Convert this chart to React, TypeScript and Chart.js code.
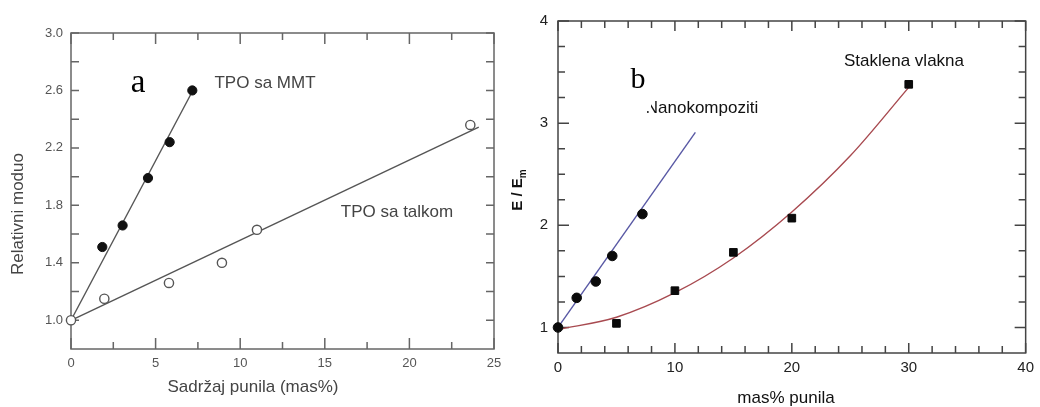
import React, { useEffect, useRef } from "react";
import { Chart, registerables } from "chart.js";

Chart.register(...registerables);

// ---------- Panel a ----------
const aXTicks = [0, 5, 10, 15, 20, 25];
const aYTicks = [1.0, 1.4, 1.8, 2.2, 2.6, 3.0];
const aXMinor = [2.5, 7.5, 12.5, 17.5, 22.5];
const aYMinor = [1.2, 1.6, 2.0, 2.4, 2.8];
const mmtX = [1.85, 3.05, 4.55, 5.83, 7.17];
const mmtY = [1.51, 1.66, 1.99, 2.24, 2.6];
const talcX = [0, 1.97, 5.79, 8.92, 10.99, 23.6];
const talcY = [1.0, 1.15, 1.26, 1.4, 1.63, 2.36];
const mmtFitX = [0, 7.2];
const mmtFitY = [1.0, 2.6];
const talcFitX = [0, 24.1];
const talcFitY = [1.0, 2.345];

// ---------- Panel b ----------
const bXTicks = [0, 10, 20, 30, 40];
const bYTicks = [1, 2, 3, 4];
const bXMinor = [2, 4, 6, 8, 12, 14, 16, 18, 22, 24, 26, 28, 32, 34, 36, 38];
const bYMinor = [1.25, 1.5, 1.75, 2.25, 2.5, 2.75, 3.25, 3.5, 3.75];
const nanoX = [0, 1.6, 3.23, 4.64, 7.22];
const nanoY = [1.0, 1.29, 1.45, 1.7, 2.11];
const glassX = [5, 10, 15, 20, 30];
const glassY = [1.04, 1.36, 1.735, 2.07, 3.38];
const nanoFitX = [0, 11.75];
const nanoFitY = [1.0, 2.91];
const glassFitX = [0, 5, 10, 15, 20, 25, 30];
const glassFitY = [0.98, 1.1, 1.34, 1.68, 2.13, 2.68, 3.35];

const SANS = "'Liberation Sans', Arial, sans-serif";
const SERIF = "'Liberation Serif', 'Times New Roman', serif";

const pts = (xs: number[], ys: number[]) => xs.map((x, i) => ({ x, y: ys[i] }));

function drawFrame(chart: any, o: any) {
  const { ctx, chartArea, scales } = chart;
  const { left, right, top, bottom } = chartArea;
  const x = scales.x;
  const y = scales.y;
  ctx.save();
  ctx.strokeStyle = o.color;
  ctx.lineWidth = o.lw;
  ctx.strokeRect(left, top, right - left, bottom - top);
  ctx.beginPath();
  const xt = (vals: number[], len: number) => {
    for (const v of vals) {
      const p = x.getPixelForValue(v);
      ctx.moveTo(p, bottom);
      ctx.lineTo(p, bottom - len);
      ctx.moveTo(p, top);
      ctx.lineTo(p, top + len);
    }
  };
  const yt = (vals: number[], len: number) => {
    for (const v of vals) {
      const p = y.getPixelForValue(v);
      ctx.moveTo(left, p);
      ctx.lineTo(left + len, p);
      ctx.moveTo(right, p);
      ctx.lineTo(right - len, p);
    }
  };
  xt(o.xMajor, o.xMajorLen);
  xt(o.xMinor, o.xMinorLen);
  yt(o.yMajor, o.yMajorLen);
  yt(o.yMinor, o.yMinorLen);
  ctx.stroke();
  ctx.restore();
}

function text(ctx: any, s: string, x: number, y: number, font: string, color: string, rot = 0) {
  ctx.save();
  ctx.font = font;
  ctx.fillStyle = color;
  ctx.textAlign = "center";
  ctx.textBaseline = "middle";
  ctx.translate(x, y);
  if (rot) ctx.rotate(rot);
  ctx.fillText(s, 0, 0);
  ctx.restore();
}

const panelA = {
  id: "panelA",
  beforeDatasetsDraw(chart: any) {
    drawFrame(chart, {
      color: "#666",
      lw: 1.5,
      xMajor: aXTicks,
      xMinor: aXMinor,
      yMajor: aYTicks,
      yMinor: aYMinor,
      xMajorLen: 11,
      xMinorLen: 7,
      yMajorLen: 8,
      yMinorLen: 8,
    });
  },
  afterDraw(chart: any) {
    const ctx = chart.ctx;
    text(ctx, "Relativni moduo", 18, 214, `17px ${SANS}`, "#444", -Math.PI / 2);
    text(ctx, "Sadržaj punila (mas%)", 253, 387, `17px ${SANS}`, "#444");
    text(ctx, "a", 138, 83, `33px ${SERIF}`, "#000");
    text(ctx, "TPO sa MMT", 265, 83, `17px ${SANS}`, "#444");
    text(ctx, "TPO sa talkom", 397, 212, `17px ${SANS}`, "#444");
  },
};

const panelB = {
  id: "panelB",
  beforeDatasetsDraw(chart: any) {
    drawFrame(chart, {
      color: "#444",
      lw: 1.5,
      xMajor: bXTicks,
      xMinor: bXMinor,
      yMajor: bYTicks,
      yMinor: bYMinor,
      xMajorLen: 10,
      xMinorLen: 7,
      yMajorLen: 11,
      yMinorLen: 7,
    });
  },
  afterDraw(chart: any) {
    const ctx = chart.ctx;
    // y title E / E_m
    ctx.save();
    ctx.translate(18, 190);
    ctx.rotate(-Math.PI / 2);
    ctx.fillStyle = "#111";
    ctx.textBaseline = "middle";
    ctx.textAlign = "left";
    ctx.font = `bold 15px ${SANS}`;
    const main = "E / E";
    const w1 = ctx.measureText(main).width;
    ctx.font = `bold 10px ${SANS}`;
    const w2 = ctx.measureText("m").width;
    const sx = -(w1 + w2) / 2;
    ctx.font = `bold 15px ${SANS}`;
    ctx.fillText(main, sx, 0);
    ctx.font = `bold 10px ${SANS}`;
    ctx.fillText("m", sx + w1, 5);
    ctx.restore();

    text(ctx, "mas% punila", 286, 398, `17px ${SANS}`, "#111");
    text(ctx, "Staklena vlakna", 404, 61, `17px ${SANS}`, "#111");
    text(ctx, "Nanokompoziti", 202, 108, `17px ${SANS}`, "#111");
    ctx.save();
    ctx.fillStyle = "#fff";
    ctx.fillRect(118, 55, 33, 56);
    ctx.restore();
    text(ctx, "b", 138, 80, `30px ${SERIF}`, "#000");
  },
};

function fixAxis(size: number, dim: "width" | "height") {
  return (scale: any) => {
    scale[dim] = size;
  };
}

function setTicks(vals: number[]) {
  return (scale: any) => {
    scale.ticks = vals.map((v) => ({ value: v }));
  };
}

export default function App() {
  const refA = useRef<HTMLCanvasElement>(null);
  const refB = useRef<HTMLCanvasElement>(null);

  useEffect(() => {
    const chartA = new Chart(refA.current as HTMLCanvasElement, {
      type: "scatter",
      data: {
        datasets: [
          {
            data: pts(mmtX, mmtY),
            pointRadius: 4.6,
            pointBackgroundColor: "#111",
            pointBorderColor: "#111",
            pointBorderWidth: 1,
            showLine: false,
            clip: false,
          } as any,
          {
            data: pts(talcX, talcY),
            pointRadius: 4.6,
            pointBackgroundColor: "#fff",
            pointBorderColor: "#555",
            pointBorderWidth: 1.4,
            showLine: false,
            clip: false,
          },
          {
            data: pts(mmtFitX, mmtFitY),
            showLine: true,
            borderColor: "#555",
            borderWidth: 1.4,
            pointRadius: 0,
            clip: false,
          },
          {
            data: pts(talcFitX, talcFitY),
            showLine: true,
            borderColor: "#555",
            borderWidth: 1.4,
            pointRadius: 0,
            clip: false,
          },
        ],
      },
      options: {
        animation: false,
        responsive: false,
        devicePixelRatio: 1,
        events: [],
        layout: { padding: { left: 0, top: 33, right: 26, bottom: 0 } },
        plugins: { legend: { display: false }, tooltip: { enabled: false } },
        scales: {
          x: {
            type: "linear",
            min: 0,
            max: 25,
            afterFit: fixAxis(58, "height"),
            afterBuildTicks: setTicks(aXTicks),
            grid: { display: false, drawTicks: false },
            border: { display: false },
            ticks: {
              padding: 7,
              color: "#555",
              font: { family: SANS, size: 13 },
              maxRotation: 0,
              callback: (v: any) => String(v),
            },
          },
          y: {
            type: "linear",
            min: 0.8,
            max: 3.0,
            afterFit: fixAxis(71, "width"),
            afterBuildTicks: setTicks(aYTicks),
            grid: { display: false, drawTicks: false },
            border: { display: false },
            ticks: {
              padding: 8,
              color: "#555",
              font: { family: SANS, size: 13 },
              callback: (v: any) => Number(v).toFixed(1),
            },
          },
        },
      } as any,
      plugins: [panelA],
    });

    const chartB = new Chart(refB.current as HTMLCanvasElement, {
      type: "scatter",
      data: {
        datasets: [
          {
            data: pts(nanoX, nanoY),
            pointRadius: 4.8,
            pointBackgroundColor: "#0a0a0a",
            pointBorderColor: "#0a0a0a",
            pointBorderWidth: 1,
            showLine: false,
            clip: false,
          } as any,
          {
            data: pts(glassX, glassY),
            pointStyle: "rect",
            pointRadius: 5.4,
            pointBackgroundColor: "#0a0a0a",
            pointBorderColor: "#0a0a0a",
            pointBorderWidth: 1,
            showLine: false,
            clip: false,
          },
          {
            data: pts(nanoFitX, nanoFitY),
            showLine: true,
            borderColor: "#5858a4",
            borderWidth: 1.4,
            pointRadius: 0,
            clip: false,
          },
          {
            data: pts(glassFitX, glassFitY),
            showLine: true,
            borderColor: "#a84a50",
            borderWidth: 1.4,
            pointRadius: 0,
            cubicInterpolationMode: "monotone",
            clip: false,
          },
        ],
      },
      options: {
        animation: false,
        responsive: false,
        devicePixelRatio: 1,
        events: [],
        layout: { padding: { left: 0, top: 21, right: 8, bottom: 0 } },
        plugins: { legend: { display: false }, tooltip: { enabled: false } },
        scales: {
          x: {
            type: "linear",
            min: 0,
            max: 40,
            afterFit: fixAxis(54, "height"),
            afterBuildTicks: setTicks(bXTicks),
            grid: { display: false, drawTicks: false },
            border: { display: false },
            ticks: {
              padding: 6,
              color: "#222",
              font: { family: SANS, size: 15 },
              maxRotation: 0,
              callback: (v: any) => String(v),
            },
          },
          y: {
            type: "linear",
            min: 0.75,
            max: 4,
            afterFit: fixAxis(58, "width"),
            afterBuildTicks: setTicks(bYTicks),
            grid: { display: false, drawTicks: false },
            border: { display: false },
            ticks: {
              padding: 10,
              color: "#222",
              font: { family: SANS, size: 15 },
              callback: (v: any) => String(v),
            },
          },
        },
      } as any,
      plugins: [panelB],
    });

    return () => {
      chartA.destroy();
      chartB.destroy();
    };
  }, []);

  return (
    <div style={{ position: "absolute", left: 0, top: 0, width: 1040, height: 407, background: "#fff" }}>
      <canvas
        ref={refA}
        width={520}
        height={407}
        style={{ position: "absolute", left: 0, top: 0, width: 520, height: 407 }}
      />
      <canvas
        ref={refB}
        width={540}
        height={407}
        style={{ position: "absolute", left: 500, top: 0, width: 540, height: 407 }}
      />
    </div>
  );
}
